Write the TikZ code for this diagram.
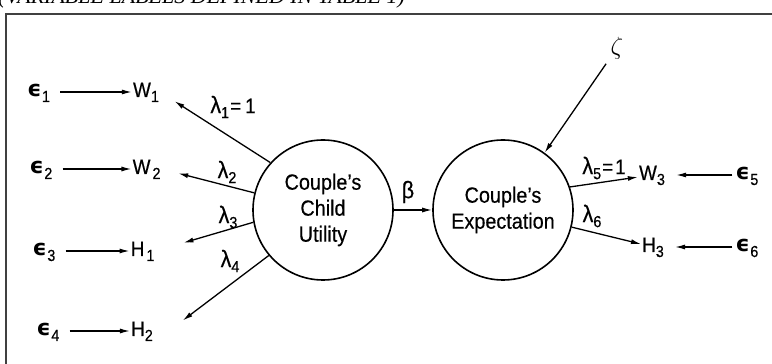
\documentclass[tikz,border=0pt]{standalone}
\usepackage{fontspec}
\setmainfont{Liberation Sans}[FakeStretch=0.9,FakeBold=0.4]
\newfontfamily\epsfont{DejaVu Sans}
\newfontfamily\capfont{Liberation Serif}
\usetikzlibrary{arrows.meta}

\newcommand{\lowix}[1]{\raisebox{-5pt}{\fontsize{16}{16}\selectfont #1}}
\newcommand{\eps}[1]{{\epsfont\bfseries\fontsize{22}{22}\selectfont ϵ}\kern0.5pt\lowix{#1}}
\newcommand{\lam}[1]{{\fontsize{24}{24}\selectfont λ}\lowix{#1}}

\begin{document}
\begin{tikzpicture}[x=20pt,y=20pt,
    font=\fontsize{21}{25}\selectfont,
    var/.style={inner sep=1pt,text height=15pt,text depth=5pt},
    latent/.style={draw,circle,line width=1.6pt,minimum size=140pt,inner sep=0pt,
        align=center,font=\fontsize{22}{26}\selectfont},
    path/.style={-{Latex[length=10pt,width=5pt]},line width=1.3pt}]

    \useasboundingbox (0,0) rectangle (38.6,18.2);

    % Frame and caption
    \draw[line width=1.4pt,black!75] (0.3,0) -- (0.3,17.5) -- (38.6,17.5);
    \node[anchor=base west,inner sep=0pt,font=\capfont\itshape\fontsize{22}{22}\selectfont]
        (caption) at (-0.1,18.0) {(VARIABLE LABELS DEFINED IN TABLE 1)};

    % Latent variables
    \node[latent] (cu) at (16.15,7.7) {Couple's\\Child\\Utility};
    \node[latent] (ce) at (25.15,7.7) {Couple's\\Expectation};

    % Indicators
    \node[var] (w1) at (7.3,13.6) {W\lowix{1}};
    \node[var] (w2) at (7.33,9.75) {W\kern2pt\lowix{2}};
    \node[var] (h1) at (7.13,5.65) {H\kern2pt\lowix{1}};
    \node[var] (h2) at (7.1,1.65) {H\lowix{2}};
    \node[var] (w3) at (32.6,9.45) {W\lowix{3}};
    \node[var] (h3) at (32.65,5.85) {H\lowix{3}};

    % Errors
    \node[var] (e1) at (1.93,13.6) {\eps{1}};
    \node[var] (e2) at (2.05,9.75) {\eps{2}};
    \node[var] (e3) at (2.2,5.65) {\eps{3}};
    \node[var] (e4) at (2.4,1.65) {\eps{4}};
    \node[var] (e5) at (37.35,9.45) {\eps{5}};
    \node[var] (e6) at (37.35,5.85) {\eps{6}};
    \node[font=\fontsize{24}{24}\selectfont] (zeta) at (30.85,15.8) {$\zeta$};

    % Error arrows
    \draw[path,shorten <=9pt] (e1) -- (w1);
    \draw[path,shorten <=9pt] (e2) -- (w2);
    \draw[path,shorten <=9pt] (e3) -- (h1);
    \draw[path,shorten <=9pt] (e4) -- (h2);
    \draw[path,shorten <=2pt,shorten >=10pt] (e5) -- (w3);
    \draw[path,shorten <=2pt,shorten >=10pt] (e6) -- (h3);
    \draw[path,shorten <=2pt] (zeta) -- (ce.54);

    % Loadings
    \draw[path,shorten >=17pt] (cu.138) -- (w1.east);
    \draw[path,shorten >=17pt] (cu.166) -- (w2.east);
    \draw[path,shorten >=29pt] (cu.190) -- (h1.east);
    \draw[path,shorten >=36pt] (cu.220) -- (h2.south east);
    \draw[path] (ce.19) -- (w3);
    \draw[path] (ce.-14) -- (h3);
    \draw[path] (cu) -- (ce);

    % Labels
    \node at (11.65,12.85) {\lam{1}\kern1pt=\kern4pt1};
    \node at (11.35,9.6) {\lam{2}};
    \node at (11.4,7.35) {\lam{3}};
    \node at (11.5,5.15) {\lam{4}};
    \node[font=\fontsize{24}{24}\selectfont] at (20.4,8.6) {β};
    \node at (30.2,9.8) {\lam{5}\kern1pt=\kern2pt1};
    \node at (29.6,7.4) {\lam{6}};
\end{tikzpicture}
\end{document}
